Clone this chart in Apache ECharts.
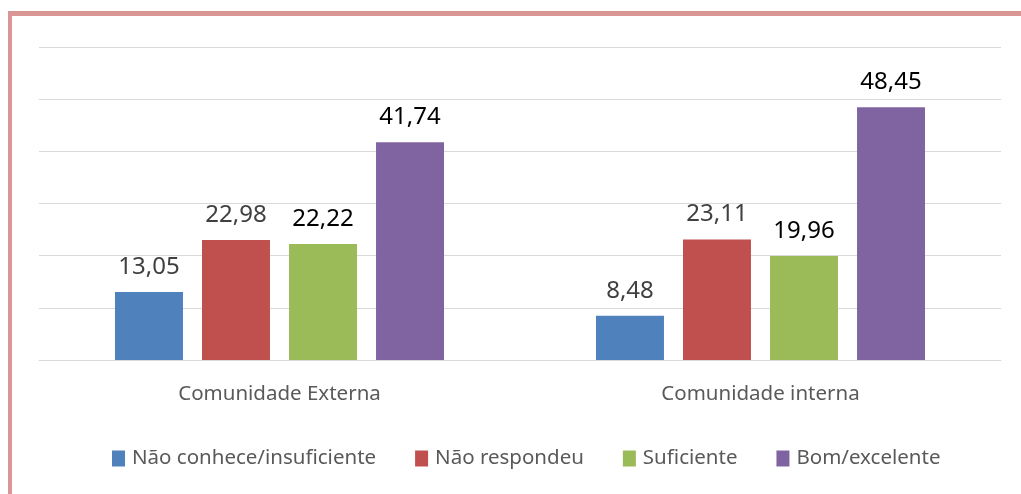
<!DOCTYPE html>
<html>
<head>
<meta charset="utf-8">
<script src="https://cdn.jsdelivr.net/npm/echarts@6/dist/echarts.min.js"></script>
<style>
  html, body { margin: 0; padding: 0; background: #fff; }
  #chart { position: absolute; left: 0; top: 0; width: 1021px; height: 494px; }
  #frame { position: absolute; left: 8px; top: 11px; right: 0; bottom: 0;
           border-left: 4px solid #d99694; border-top: 5px solid #d99694; pointer-events: none; }
</style>
</head>
<body>
<div id="chart"></div>
<div id="frame"></div>
<script>
var categories = ['Comunidade Externa', 'Comunidade interna'];
var seriesNames = ['Não conhece/insuficiente', 'Não respondeu', 'Suficiente', 'Bom/excelente'];
var naoConhece = [13.05, 8.48];
var naoRespondeu = [22.98, 23.11];
var suficiente = [22.22, 19.96];
var bomExcelente = [41.74, 48.45];

var colors = ['#4f81bd', '#c0504d', '#9bbb59', '#8064a2'];
var labelColors = ['#404040', '#404040', '#000000', '#000000'];
var values = [naoConhece, naoRespondeu, suficiente, bomExcelente];

var chart = echarts.init(document.getElementById('chart'));

var series = seriesNames.map(function (name, i) {
    return {
        name: name,
        type: 'bar',
        barGap: '28%',
        barCategoryGap: '31.6%',
        itemStyle: { color: colors[i] },
        label: {
            show: true,
            position: 'top',
            distance: 13,
            fontFamily: 'Noto Sans',
            fontSize: 24,
            color: labelColors[i],
            formatter: function (p) {
                return p.value.toFixed(2).replace('.', ',');
            }
        },
        data: values[i]
    };
});

var option = {
    animation: false,
    textStyle: { fontFamily: 'Noto Sans' },
    grid: { left: 39, right: 20, top: 47, bottom: 134 },
    legend: {
        data: seriesNames,
        left: 107,
        top: 443,
        itemWidth: 13,
        itemHeight: 16,
        itemGap: 39,
        icon: 'rect',
        textStyle: { fontFamily: 'Noto Sans', fontSize: 20.5, color: '#595959', padding: [0, 0, 0, 2] }
    },
    xAxis: {
        type: 'category',
        data: categories,
        axisLine: { lineStyle: { color: '#d9d9d9', width: 1 } },
        axisTick: { show: false },
        axisLabel: { margin: 24, fontFamily: 'Noto Sans', fontSize: 20.5, color: '#595959' }
    },
    yAxis: {
        type: 'value',
        min: 0,
        max: 60,
        interval: 10,
        axisLabel: { show: false },
        axisLine: { show: false },
        axisTick: { show: false },
        splitLine: { lineStyle: { color: '#d9d9d9', width: 1 } }
    },
    series: series
};

chart.setOption(option);
</script>
</body>
</html>
